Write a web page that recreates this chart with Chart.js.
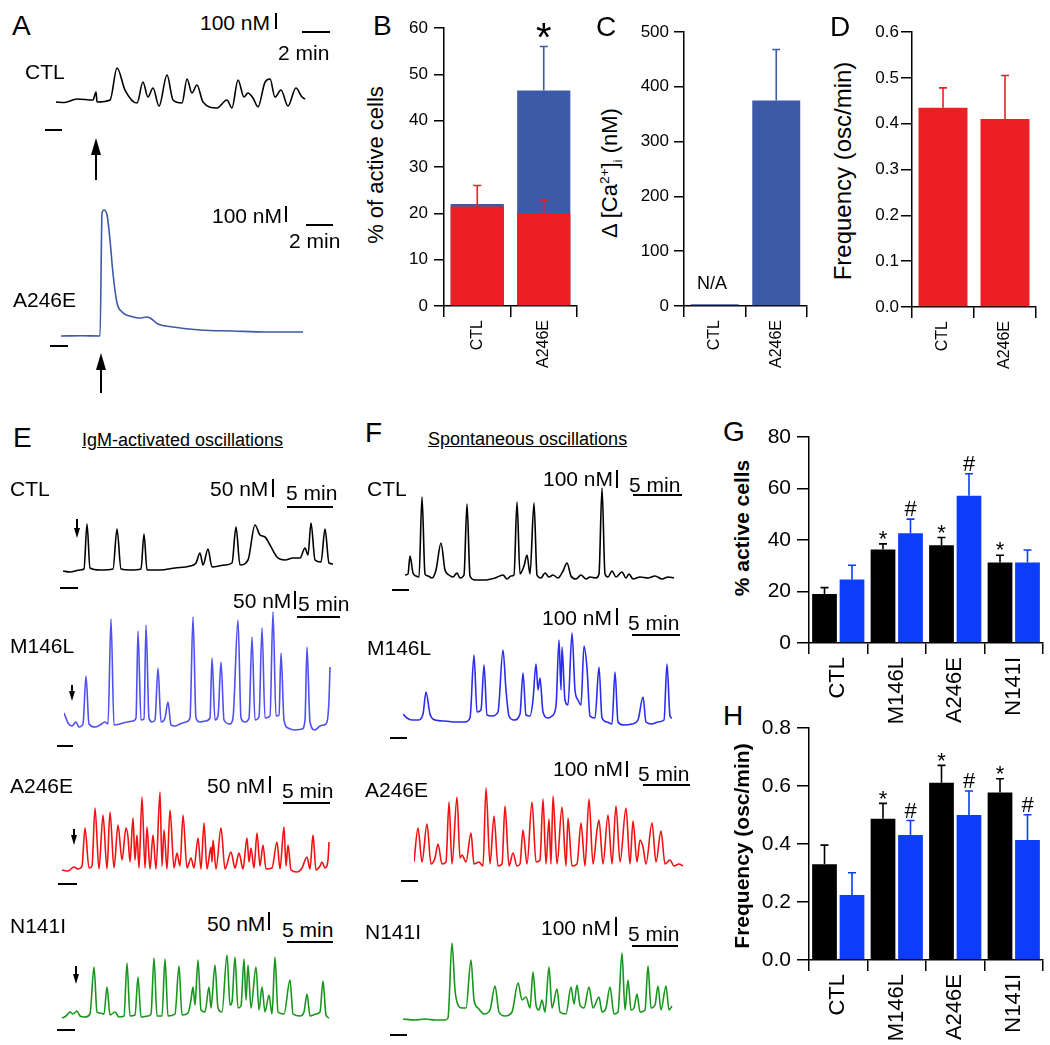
<!DOCTYPE html>
<html lang="en">
<head>
<meta charset="UTF-8" />
<title>Ca2+ responses and oscillations in PS1 mutant cells</title>
<script src="https://cdn.jsdelivr.net/npm/chart.js"></script>
<style>
  html, body { margin: 0; padding: 0; background: #fff; }
  #fig {
    position: relative; width: 1050px; height: 1045px; overflow: hidden;
    font-family: Arial, "Liberation Sans", Helvetica, sans-serif; color: #000;
  }
  #fig canvas { position: absolute; }
  .t { position: absolute; white-space: nowrap; }
  .v { position: absolute; white-space: nowrap; transform: translate(-50%, -50%) rotate(-90deg); }
  .k { position: absolute; background: #000; }
  sup, sub { font-size: 62%; }
</style>
</head>
<body>
<div id="fig"></div>

<script>
  // ---------- bar chart data ----------
  const groups2 = ['CTL', 'A246E'];
  const groups4 = ['CTL', 'M146L', 'A246E', 'N141I'];

  // B: % of active cells (red = oscillating, blue = all responders)
  const bOsc = [21.5, 20.0];
  const bOscErr = [4.5, 2.8];
  const bAll = [22.0, 46.5];
  const bAllErr = [0, 9.5];
  const bAllMarks = ['', '*'];

  // C: delta [Ca2+]i (nM)
  const cPeak = [3, 375];
  const cPeakErr = [0, 93];

  // D: frequency (osc/min)
  const dFreq = [0.435, 0.41];
  const dFreqErr = [0.043, 0.095];

  // G: % active cells (black = IgM-activated, blue = spontaneous)
  const gIgM = [19.0, 36.3, 38.0, 31.3];
  const gIgMErr = [2.5, 2.2, 3.0, 2.8];
  const gIgMMarks = ['', '*', '*', '*'];
  const gSpont = [24.7, 42.6, 57.2, 31.3];
  const gSpontErr = [5.5, 5.5, 8.5, 4.8];
  const gSpontMarks = ['', '#', '#', ''];

  // H: frequency (osc/min)
  const hIgM = [0.33, 0.487, 0.611, 0.578];
  const hIgMErr = [0.066, 0.053, 0.06, 0.047];
  const hIgMMarks = ['', '*', '*', '*'];
  const hSpont = [0.224, 0.431, 0.50, 0.414];
  const hSpontErr = [0.077, 0.05, 0.083, 0.087];
  const hSpontMarks = ['', '#', '#', '#'];

  // ---------- traces: [time (min), delta Ca (nM)] ----------
  const aCtl = [[0,0],[0.6,-3],[1.5,20],[2.64,13],[2.86,67],[2.93,0],[3.86,13],[4.36,227],[4.93,80],[5.79,-7],
    [6.21,133],[6.57,33],[6.93,93],[7.36,-27],[7.93,180],[8.36,13],[9.0,-7],[9.36,153],[9.71,60],[10.07,113],
    [10.5,0],[11.5,-40],[12.21,13],[12.57,-40],[13.0,147],[13.43,33],[13.71,60],[14.07,27],[14.43,-33],
    [14.93,133],[15.29,153],[15.64,33],[16.07,80],[16.57,-27],[17.14,93],[17.57,33],[17.79,20]];
  const aMut = [[0,0],[1.5,2],[2.79,0],[2.93,820],[3.07,840],[3.29,807],[3.5,640],[3.71,420],[4.0,220],
    [4.36,160],[5.14,127],[5.64,120],[6.14,127],[6.36,120],[6.93,80],[8.0,60],[9.93,40],[12.29,33],[14.64,27],[17.29,27]];

  const eCtl = [[0,0],[0.7,-3],[1.7,3],[2.1,6],[2.4,141],[2.7,9],[3.7,3],[5.0,6],[5.4,126],[5.8,6],[6.7,3],
    [7.8,6],[8.1,111],[8.4,3],[9.7,3],[11.2,9],[12.7,15],[13.3,24],[13.7,54],[14.0,18],[14.5,66],[14.9,12],
    [16.2,18],[16.9,24],[17.3,132],[17.7,18],[18.5,33],[19.2,138],[19.7,108],[20.2,102],[20.7,78],[21.4,42],
    [22.2,33],[23.0,39],[23.7,39],[24.2,69],[24.5,48],[24.8,144],[25.2,33],[25.8,27],[26.2,126],[26.6,24],[27.0,21]];
  const eM146L = [[0,30],[0.2,15],[0.4,0],[0.8,-9],[1.2,3],[1.5,-12],[1.9,-3],[2.2,141],[2.5,-3],[3.1,-12],
    [3.6,-6],[4.1,3],[4.4,-3],[4.7,312],[5.0,-6],[5.6,-3],[6.3,3],[6.9,6],[7.2,15],[7.4,276],[7.7,9],[8.0,12],
    [8.2,294],[8.5,15],[8.8,3],[9.1,9],[9.4,165],[9.7,3],[10.1,15],[10.4,63],[10.7,-6],[11.1,-9],[11.6,-3],
    [12.2,3],[12.6,15],[12.9,318],[13.2,15],[13.6,3],[14.1,6],[14.6,15],[14.8,195],[15.1,9],[15.4,21],[15.7,183],
    [16.0,9],[16.6,-3],[16.9,15],[17.4,309],[17.7,15],[18.1,3],[18.5,15],[18.8,258],[19.1,9],[19.5,18],[19.8,285],
    [20.1,15],[20.6,21],[20.9,333],[21.2,21],[21.5,24],[21.7,210],[22.0,9],[22.4,-15],[23.1,-21],[23.8,-18],
    [24.1,9],[24.3,228],[24.6,3],[25.1,-21],[25.6,-9],[26.0,-6],[26.3,3],[26.5,69],[26.6,168]];
  const eA246E = [[0,0],[0.6,-3],[1.2,9],[1.6,3],[2.0,12],[2.3,126],[2.7,6],[3.0,12],[3.3,186],[3.7,3],[4.1,165],
    [4.5,3],[4.8,174],[5.2,6],[5.6,135],[6.0,30],[6.4,126],[6.6,99],[6.8,24],[7.1,156],[7.3,30],[7.5,105],[7.7,6],
    [8.0,219],[8.3,6],[8.5,129],[8.8,3],[9.1,105],[9.4,3],[9.8,234],[10.0,12],[10.2,120],[10.5,3],[10.8,180],
    [11.2,6],[11.5,51],[11.8,12],[12.1,165],[12.5,6],[12.9,36],[13.2,6],[13.6,96],[13.9,3],[14.2,141],[14.5,3],
    [14.9,69],[15.0,24],[15.1,90],[15.4,3],[15.9,126],[16.3,3],[16.9,54],[17.3,6],[17.7,51],[18.1,3],[18.5,96],
    [18.7,24],[18.9,66],[19.2,6],[19.5,111],[19.8,12],[20.1,75],[20.4,3],[21.0,6],[21.5,84],[21.8,3],[22.2,129],
    [22.4,12],[22.6,75],[22.9,0],[23.5,-6],[24.0,6],[24.5,39],[24.8,3],[25.1,105],[25.4,0],[25.8,12],[26.0,24],
    [26.3,6],[26.6,30],[26.7,84]];
  const eN141I = [[0,0],[0.4,6],[0.8,18],[1.1,12],[1.5,21],[1.8,6],[2.3,3],[2.8,12],[3.2,153],[3.5,18],[3.8,15],
    [4.2,12],[4.5,93],[4.8,9],[5.3,18],[5.7,3],[6.2,6],[6.5,165],[6.8,6],[7.3,9],[7.6,123],[7.9,3],[8.6,6],[8.9,12],
    [9.2,180],[9.5,6],[10.0,6],[10.3,177],[10.6,6],[11.3,12],[11.7,156],[12.0,9],[12.6,15],[12.9,54],[13.1,93],
    [13.3,39],[13.6,174],[13.9,24],[14.3,18],[14.7,93],[14.9,30],[15.3,159],[15.6,30],[16.0,18],[16.5,189],
    [16.8,39],[17.0,48],[17.3,183],[17.6,30],[17.9,36],[18.2,177],[18.4,54],[18.6,159],[18.9,30],[19.4,153],
    [19.7,24],[20.0,93],[20.3,18],[20.7,69],[21.0,12],[21.3,183],[21.6,18],[22.2,12],[22.8,114],[23.1,12],
    [23.8,6],[24.2,18],[24.5,72],[24.8,6],[25.4,12],[25.8,18],[26.1,111],[26.4,9],[26.7,0]];

  const fCtl = [[0,18],[0.3,24],[0.5,132],[0.8,30],[1.1,12],[1.4,6],[1.7,486],[2.0,24],[2.3,12],[2.7,0],[3.1,48],
    [3.6,210],[4.0,48],[4.4,18],[4.8,6],[5.2,30],[5.5,0],[5.9,18],[6.2,444],[6.5,12],[7.0,-12],[8.0,-12],[9.0,0],
    [9.8,18],[10.2,-6],[10.6,12],[10.9,18],[11.2,456],[11.5,24],[11.9,72],[12.2,138],[12.5,24],[12.9,450],
    [13.2,18],[13.6,0],[14.0,30],[14.4,6],[14.8,18],[15.3,0],[15.8,42],[16.2,90],[16.6,12],[17.1,-6],[17.6,18],
    [18.1,-6],[18.5,6],[19.1,0],[19.4,24],[19.7,540],[20.0,24],[20.3,6],[20.7,42],[21.1,6],[21.7,36],[22.1,0],
    [22.4,24],[22.8,-6],[23.5,6],[24.3,0],[25.0,12],[25.7,-6],[26.3,6],[26.9,0]];
  const fM146L = [[0,48],[0.4,24],[0.9,12],[1.5,12],[2.0,48],[2.3,180],[2.7,48],[3.2,12],[4.2,6],[5.2,0],[6.2,0],
    [6.7,24],[7.1,402],[7.4,60],[7.8,72],[8.1,342],[8.4,42],[8.9,36],[9.5,60],[10.0,432],[10.3,192],[10.6,36],
    [11.1,12],[11.7,48],[12.0,294],[12.3,42],[12.7,36],[13.0,132],[13.3,348],[13.5,192],[13.7,264],[14.0,60],
    [14.5,24],[14.9,36],[15.3,96],[15.6,492],[15.8,192],[15.9,450],[16.2,132],[16.5,102],[16.9,534],[17.2,192],
    [17.5,132],[17.8,102],[18.1,456],[18.4,324],[18.7,36],[19.2,24],[19.6,330],[19.9,24],[20.4,0],[20.9,-12],
    [21.2,300],[21.5,0],[22.1,-18],[22.9,-12],[23.5,12],[24.0,150],[24.3,0],[24.9,-12],[25.5,0],[26.1,12],
    [26.4,348],[26.7,36],[26.9,24]];
  const fA246E = [[0,24],[0.4,228],[0.8,24],[1.3,252],[1.7,12],[2.1,48],[2.4,132],[2.8,12],[3.2,24],[3.5,384],
    [3.8,12],[4.3,414],[4.6,48],[4.8,66],[5.2,24],[5.7,198],[6.0,12],[6.5,24],[6.9,0],[7.2,468],[7.6,12],[8.0,300],
    [8.4,0],[8.8,12],[9.1,360],[9.5,0],[9.9,78],[10.3,0],[10.6,12],[10.9,216],[11.3,12],[11.8,384],[12.2,24],
    [12.6,36],[12.9,402],[13.2,12],[13.5,282],[13.7,12],[13.9,420],[14.3,12],[14.8,354],[15.2,0],[15.4,288],
    [15.8,0],[16.3,12],[16.7,258],[17.1,0],[17.5,402],[17.9,12],[18.3,216],[18.5,276],[18.9,12],[19.4,306],
    [19.8,12],[20.2,360],[20.6,24],[21.2,348],[21.6,12],[21.9,270],[22.3,24],[22.6,156],[22.9,114],[23.2,12],
    [23.8,258],[24.2,24],[24.7,210],[25.1,12],[25.6,36],[26.0,0],[26.5,12],[26.9,0]];
  const fN141I = [[0,6],[1.2,0],[2.2,6],[3.2,0],[4.2,0],[4.5,12],[4.9,462],[5.2,180],[5.5,90],[5.9,72],[6.3,72],
    [6.8,360],[7.1,120],[7.5,72],[8.1,36],[8.7,60],[9.2,204],[9.6,48],[10.2,24],[10.9,48],[11.5,222],[11.9,120],
    [12.3,138],[12.7,72],[13.0,288],[13.3,90],[13.6,60],[13.9,120],[14.2,48],[14.6,318],[14.9,72],[15.4,186],
    [15.7,48],[16.3,36],[16.8,198],[17.1,96],[17.4,210],[17.7,90],[18.1,72],[18.6,198],[19.0,72],[19.6,138],
    [19.9,48],[20.3,72],[20.7,198],[21.1,36],[21.5,48],[21.9,402],[22.2,60],[22.5,240],[22.8,60],[23.1,72],
    [23.4,156],[23.7,48],[24.2,60],[24.5,324],[24.8,72],[25.2,90],[25.5,204],[25.8,60],[26.3,204],[26.6,60],[26.9,84]];

  // ---------- colours ----------
  const RED = '#ed1f24';
  const NAVY = '#3d5aa8';
  const BLUE = '#0b3dfa';
  const FONT = 'Arial, "Liberation Sans", Helvetica, sans-serif';

  Chart.defaults.font.family = FONT;
  Chart.defaults.color = '#000';

  const fig = document.getElementById('fig');

  function addCanvas(left, top, w, h) {
    const cv = document.createElement('canvas');
    cv.width = w; cv.height = h;
    cv.style.left = left + 'px'; cv.style.top = top + 'px';
    cv.style.width = w + 'px'; cv.style.height = h + 'px';
    fig.appendChild(cv);
    return cv;
  }

  // error bars + significance marks on top of bars
  const errPlugin = {
    id: 'errbars',
    afterDatasetsDraw(chart) {
      const ctx = chart.ctx, y = chart.scales.y;
      chart.data.datasets.forEach((ds, i) => {
        const meta = chart.getDatasetMeta(i);
        meta.data.forEach((el, j) => {
          const err = ds.errors ? ds.errors[j] : 0;
          const top = y.getPixelForValue(ds.data[j] + err);
          ctx.save();
          ctx.strokeStyle = ds.backgroundColor;
          ctx.lineWidth = 1.6;
          if (err > 0) {
            ctx.beginPath();
            ctx.moveTo(el.x, el.y); ctx.lineTo(el.x, top);
            ctx.moveTo(el.x - 4, top); ctx.lineTo(el.x + 4, top);
            ctx.stroke();
          }
          const m = ds.marks ? ds.marks[j] : '';
          if (m) {
            ctx.fillStyle = '#000';
            ctx.font = ds.markSize + 'px ' + FONT;
            ctx.textAlign = 'center';
            ctx.textBaseline = 'alphabetic';
            ctx.fillText(m, el.x, m === '*' ? top + ds.markSize * 0.1 : top - 3);
          }
          ctx.restore();
        });
      });
    }
  };

  function barChart(labels, datasets, yo, area, box, fx, fy) {
    const cv = addCanvas(box.left, box.top, box.right - box.left, box.bottom - box.top);
    new Chart(cv, {
      type: 'bar',
      data: { labels, datasets },
      options: {
        animation: false, responsive: false, events: [],
        layout: { padding: { left: 0, top: area.top - box.top, right: box.right - area.right, bottom: 0 } },
        plugins: { legend: { display: false }, tooltip: { enabled: false } },
        scales: {
          x: {
            ticks: { color: '#000', font: { size: fx }, minRotation: 90, maxRotation: 90, autoSkip: false, padding: 3 },
            grid: { drawOnChartArea: false, color: '#000', lineWidth: 1.5, tickLength: 11, offset: true },
            border: { color: '#000', width: 1.5 },
            afterFit: s => { s.height = box.bottom - area.bottom; }
          },
          y: {
            min: yo.min, max: yo.max,
            ticks: { stepSize: yo.step, color: '#000', font: { size: fy }, padding: yo.pad,
                     callback: v => Number(v).toFixed(yo.dec) },
            grid: { drawOnChartArea: false, color: '#000', lineWidth: 1.5, tickLength: yo.tick },
            border: { color: '#000', width: 1.5 },
            afterFit: s => { s.width = area.left - box.left; }
          }
        }
      },
      plugins: [errPlugin]
    });
  }

  function traceChart(pts, color, box) {
    const cv = addCanvas(box.left, box.top, box.width, box.height);
    new Chart(cv, {
      type: 'line',
      data: {
        datasets: [{
          data: pts.map(p => ({ x: p[0], y: p[1] })),
          borderColor: color, borderWidth: 1.6, pointRadius: 0,
          cubicInterpolationMode: 'monotone', fill: false
        }]
      },
      options: {
        animation: false, responsive: false, events: [],
        layout: { padding: 0 },
        plugins: { legend: { display: false }, tooltip: { enabled: false } },
        scales: {
          x: { type: 'linear', display: false, min: 0, max: box.width / box.pxPerMin },
          y: { type: 'linear', display: false,
               min: -(box.top + box.height - box.base) * box.nmPerPx,
               max: (box.base - box.top) * box.nmPerPx }
        }
      }
    });
  }

  // ---------- bar panels ----------
  barChart(groups2, [
    { data: bOsc, errors: bOscErr, backgroundColor: RED, grouped: false, barPercentage: 0.8, categoryPercentage: 1 },
    { data: bAll, errors: bAllErr, marks: bAllMarks, markSize: 40, backgroundColor: NAVY, grouped: false,
      barPercentage: 0.8, categoryPercentage: 1 }
  ], { min: 0, max: 60, step: 10, dec: 0, tick: 10, pad: 6 },
     { left: 444, top: 28, right: 577, bottom: 306 }, { left: 395, top: 6, right: 585, bottom: 378 }, 16, 17);

  barChart(groups2, [
    { data: cPeak, errors: cPeakErr, backgroundColor: NAVY, barPercentage: 0.78, categoryPercentage: 1 }
  ], { min: 0, max: 500, step: 100, dec: 0, tick: 10, pad: 5 },
     { left: 684, top: 32, right: 807, bottom: 306 }, { left: 628, top: 8, right: 815, bottom: 378 }, 16, 17);

  barChart(groups2, [
    { data: dFreq, errors: dFreqErr, backgroundColor: RED, barPercentage: 0.79, categoryPercentage: 1 }
  ], { min: 0, max: 0.6, step: 0.1, dec: 1, tick: 11, pad: 2 },
     { left: 912, top: 32, right: 1036, bottom: 307 }, { left: 862, top: 8, right: 1046, bottom: 378 }, 16, 17);

  barChart(groups4, [
    { data: gIgM, errors: gIgMErr, marks: gIgMMarks, markSize: 22, backgroundColor: '#000',
      barPercentage: 0.9, categoryPercentage: 0.94 },
    { data: gSpont, errors: gSpontErr, marks: gSpontMarks, markSize: 22, backgroundColor: BLUE,
      barPercentage: 0.9, categoryPercentage: 0.94 }
  ], { min: 0, max: 80, step: 20, dec: 0, tick: 12, pad: 6 },
     { left: 809, top: 437, right: 1043, bottom: 643 }, { left: 755, top: 415, right: 1048, bottom: 726 }, 22, 21);

  barChart(groups4, [
    { data: hIgM, errors: hIgMErr, marks: hIgMMarks, markSize: 22, backgroundColor: '#000',
      barPercentage: 0.9, categoryPercentage: 0.94 },
    { data: hSpont, errors: hSpontErr, marks: hSpontMarks, markSize: 22, backgroundColor: BLUE,
      barPercentage: 0.9, categoryPercentage: 0.94 }
  ], { min: 0, max: 0.8, step: 0.2, dec: 1, tick: 12, pad: 6 },
     { left: 809, top: 728, right: 1043, bottom: 960 }, { left: 755, top: 705, right: 1048, bottom: 1045 }, 22, 21);

  // ---------- traces ----------
  const A = { pxPerMin: 14, nmPerPx: 6.67 };
  const E = { pxPerMin: 10, nmPerPx: 3 };
  const F = { pxPerMin: 10, nmPerPx: 6 };
  traceChart(aCtl, '#000', { ...A, left: 56, top: 60, width: 252, height: 55, base: 102 });
  traceChart(aMut, NAVY, { ...A, left: 61, top: 200, width: 250, height: 145, base: 336 });

  traceChart(eCtl, '#000', { ...E, left: 63, top: 510, width: 275, height: 70, base: 571 });
  traceChart(eM146L, '#5050f2', { ...E, left: 64, top: 605, width: 275, height: 130, base: 723 });
  traceChart(eA246E, '#f21010', { ...E, left: 62, top: 785, width: 275, height: 92, base: 870 });
  traceChart(eN141I, '#16961a', { ...E, left: 62, top: 945, width: 275, height: 80, base: 1018 });

  traceChart(fCtl, '#000', { ...F, left: 405, top: 480, width: 280, height: 105, base: 578 });
  traceChart(fM146L, '#2c2cf0', { ...F, left: 403, top: 625, width: 280, height: 105, base: 722 });
  traceChart(fA246E, '#f21010', { ...F, left: 414, top: 780, width: 280, height: 92, base: 866 });
  traceChart(fN141I, '#16961a', { ...F, left: 403, top: 935, width: 280, height: 92, base: 1020 });

  // ---------- text, scale bars, arrows ----------
  function txt(x, cy, s, size, extra) {
    const d = document.createElement('div');
    d.className = 't';
    d.innerHTML = s;
    d.style.left = x + 'px';
    d.style.top = (cy - size / 2) + 'px';
    d.style.fontSize = size + 'px';
    d.style.lineHeight = size + 'px';
    if (extra) Object.assign(d.style, extra);
    fig.appendChild(d);
  }
  function vtxt(cx, cy, s, size, bold) {
    const d = document.createElement('div');
    d.className = 'v';
    d.innerHTML = s;
    d.style.left = cx + 'px';
    d.style.top = cy + 'px';
    d.style.fontSize = size + 'px';
    if (bold) d.style.fontWeight = 'bold';
    fig.appendChild(d);
  }
  function rect(x, y, w, h) {
    const d = document.createElement('div');
    d.className = 'k';
    d.style.left = x + 'px'; d.style.top = y + 'px';
    d.style.width = w + 'px'; d.style.height = h + 'px';
    fig.appendChild(d);
  }
  const hbar = (x1, x2, y) => rect(x1, y - 1, x2 - x1, 2);
  const vbar = (x, y1, y2) => rect(x - 1, y1, 2, y2 - y1);
  // arrow from y1 (tail) to y2 (tip); points up when y2 < y1
  function arrow(x, y1, y2, head, hh, w) {
    const up = y2 < y1;
    const top = Math.min(y1, y2), bot = Math.max(y1, y2);
    if (up) rect(x - w / 2, top + hh - 1, w, bot - top - hh + 1);
    else rect(x - w / 2, top, w, bot - top - hh + 1);
    const d = document.createElement('div');
    d.style.cssText = 'position:absolute;width:0;height:0;left:' + (x - head / 2) + 'px;top:' +
      (up ? top : bot - hh) + 'px;' +
      'border-left:' + (head / 2) + 'px solid transparent;border-right:' + (head / 2) + 'px solid transparent;' +
      (up ? 'border-bottom:' : 'border-top:') + hh + 'px solid #000;';
    fig.appendChild(d);
  }

  // panel letters
  txt(12, 26, 'A', 28); txt(373, 26, 'B', 28); txt(596, 27, 'C', 28); txt(830, 27, 'D', 28);
  txt(13, 438, 'E', 28); txt(365, 433, 'F', 28); txt(723, 432, 'G', 28); txt(723, 716, 'H', 28);

  // axis titles
  vtxt(376, 165, '% of active cells', 22);
  vtxt(611, 173, '&Delta; [Ca<sup>2+</sup>]<sub>i</sub> (nM)', 22);
  vtxt(843, 171, 'Frequency (osc/min)', 24);
  vtxt(742, 528, '% active cells', 21, true);
  vtxt(742, 846, 'Frequency (osc/min)', 21, true);
  txt(697, 283, 'N/A', 18);

  // panel A
  txt(200, 22, '100 nM', 21); vbar(276, 13, 29); hbar(302, 330, 32); txt(278, 52, '2 min', 21);
  txt(25, 71, 'CTL', 21); hbar(45, 62, 130); arrow(96, 180, 138, 10, 17, 2);
  txt(212, 215, '100 nM', 21); vbar(286, 206, 222); hbar(306, 333, 225); txt(289, 240, '2 min', 21);
  txt(13, 299, 'A246E', 21); hbar(50, 68, 346); arrow(101, 393, 353, 10, 17, 2);

  // panel E
  txt(82, 440, 'IgM-activated oscillations', 18, { textDecoration: 'underline' });
  txt(10, 488, 'CTL', 21); txt(210, 488, '50 nM', 21); vbar(273, 479, 497); txt(286, 492, '5 min', 21);
  hbar(287, 333, 507); arrow(77, 519, 538, 6, 10, 1.5); hbar(60, 78, 588);
  txt(233, 600, '50 nM', 21); vbar(295, 591, 609); txt(298, 603, '5 min', 21); hbar(297, 340, 617);
  txt(10, 645, 'M146L', 21); arrow(72, 685, 701, 6, 10, 1.5); hbar(57, 73, 746);
  txt(10, 785, 'A246E', 21); txt(207, 785, '50 nM', 21); vbar(270, 776, 793); txt(282, 790, '5 min', 21);
  hbar(283, 330, 803); arrow(74, 829, 845, 6, 10, 1.5); hbar(58, 77, 884);
  txt(10, 925, 'N141I', 21); txt(207, 923, '50 nM', 21); vbar(269, 912, 930); txt(282, 929, '5 min', 21);
  hbar(287, 333, 942); arrow(76, 966, 984, 6, 10, 1.5); hbar(57, 75, 1030);

  // panel F
  txt(428, 439, 'Spontaneous oscillations', 18, { textDecoration: 'underline' });
  txt(367, 488, 'CTL', 21); txt(543, 478, '100 nM', 21); vbar(617, 470, 488); txt(629, 484, '5 min', 21);
  hbar(633, 682, 495); hbar(392, 409, 590);
  txt(367, 647, 'M146L', 21); txt(542, 617, '100 nM', 21); vbar(617, 608, 625); txt(628, 622, '5 min', 21);
  hbar(632, 680, 635); hbar(390, 407, 738);
  txt(365, 789, 'A246E', 21); txt(553, 768, '100 nM', 21); vbar(627, 761, 777); txt(638, 773, '5 min', 21);
  hbar(643, 690, 785); hbar(401, 418, 881);
  txt(365, 931, 'N141I', 21); txt(541, 927, '100 nM', 21); vbar(616, 917, 936); txt(628, 933, '5 min', 21);
  hbar(632, 678, 946); hbar(390, 407, 1035);
</script>
</body>
</html>
